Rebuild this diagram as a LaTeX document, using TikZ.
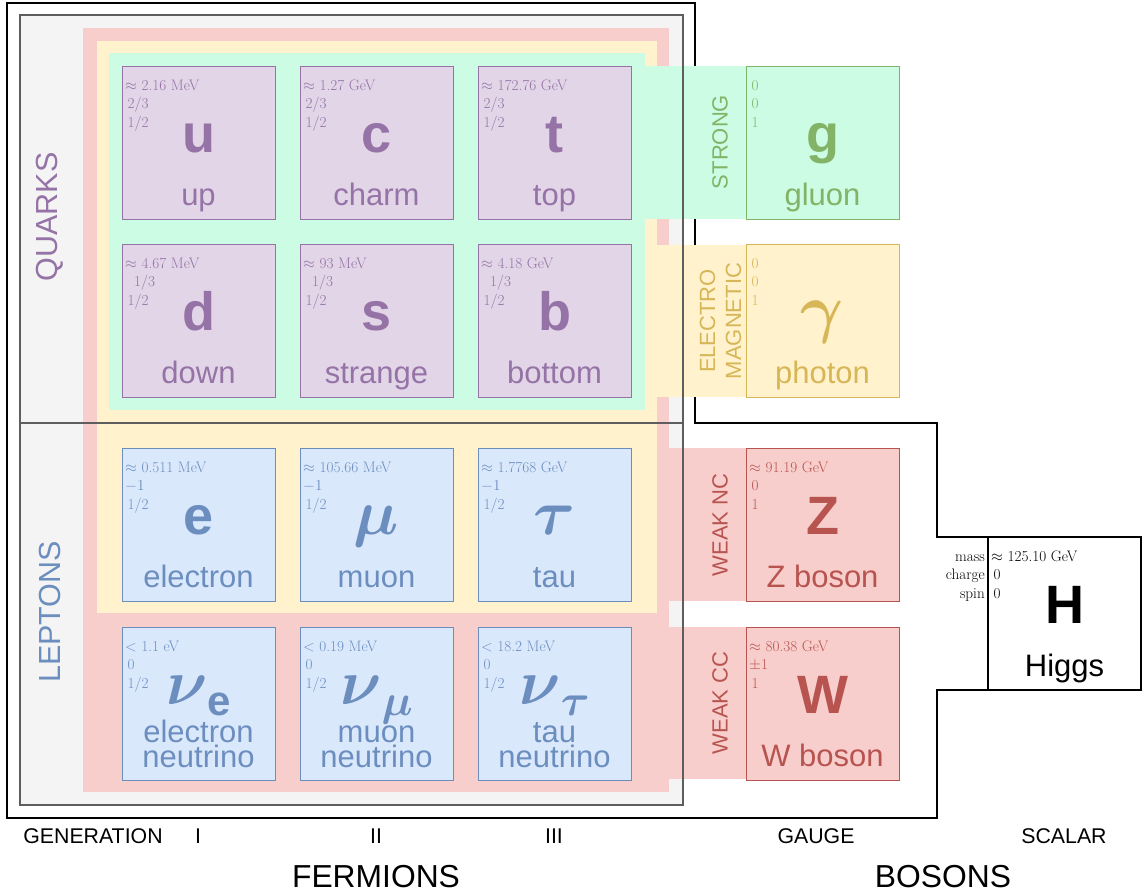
\documentclass[tikz,border=0pt]{standalone}
\usepackage{fix-cm}
\usepackage{amsmath}
\usepackage{fontspec}
\newfontfamily\fFamily{Liberation Sans}

% colour pairs: <prefix>line / <prefix>fill
\definecolor{qline}{HTML}{9673A6}\definecolor{qfill}{HTML}{E1D5E7}
\definecolor{lline}{HTML}{6C8EBF}\definecolor{lfill}{HTML}{DAE8FC}
\definecolor{sline}{HTML}{82B366}\definecolor{sfill}{HTML}{CCFCE4}
\definecolor{eline}{HTML}{D6B656}\definecolor{efill}{HTML}{FFF2CC}
\definecolor{wline}{HTML}{B85450}\definecolor{wfill}{HTML}{F8CECC}
\definecolor{panel}{HTML}{F4F4F4}\definecolor{panelline}{HTML}{5E5E5E}

\newcommand\fInfo{\fontsize{15.2}{18}\selectfont}
\newcommand\fSym{\fFamily\bfseries\fontsize{54}{60}\selectfont}
\newcommand\fGreek{\fontsize{64}{70}\selectfont}
\newcommand\fPhoton{\fontsize{66}{72}\selectfont}
\newcommand\fSub{\fFamily\bfseries\fontsize{42}{46}\selectfont}
\newcommand\fSubGreek{\fontsize{44}{48}\selectfont}
\newcommand\fName{\fFamily\fontsize{31}{25}\selectfont}
\newcommand\fForce{\fFamily\fontsize{22}{26}\selectfont}
\newcommand\fGroupSide{\fFamily\fontsize{30.5}{34}\selectfont}
\newcommand\fAxis{\fFamily\fontsize{21.3}{24}\selectfont}
\newcommand\fGroup{\fFamily\fontsize{31.8}{34}\selectfont}

% neutrino symbol: large nu with a lowered flavour index
\newcommand\nusym[1]{\raisebox{9pt}{\fGreek$\boldsymbol{\nu}$}\raisebox{-2pt}{#1}}

% one particle card: name, x, y, colour prefix, mass, charge, spin, symbol, label
\newcommand\particle[9]{%
  \node[card, draw=#4line, fill=#4fill] (#1) at (#2,#3) {};
  \node[info, text=#4line] at ([shift={(3,24)}]#1.north west) {#5};
  \node[info, text=#4line] at ([shift={(3,42)}]#1.north west) {#6};
  \node[info, text=#4line] at ([shift={(3,61)}]#1.north west) {#7};
  \node[sym, text=#4line] at ([shift={(0,86)}]#1.north) {#8};
  \node[pname, text=#4line] at ([shift={(0,139)}]#1.north) {#9};
}

\begin{document}
\begin{tikzpicture}[x=1pt, y=-1pt,
  card/.style={draw, line width=1pt, minimum width=153pt, minimum height=153pt,
               inner sep=0pt, outer sep=0pt, anchor=north west},
  info/.style={anchor=base west, inner sep=0pt, font=\fInfo},
  sym/.style={anchor=base, inner sep=0pt, font=\fSym},
  pname/.style={anchor=base, inner sep=0pt, font=\fName},
  force/.style={rotate=90, inner sep=0pt, font=\fForce, align=center},
  side/.style={rotate=90, inner sep=0pt, font=\fGroupSide},
  axis/.style={anchor=base, inner sep=0pt, font=\fAxis},
  group/.style={anchor=base, inner sep=0pt, font=\fGroup},
  frame/.style={line width=1.3pt, draw=black},
]
\useasboundingbox (0,0) rectangle (1148,892);

% scalar sector and the outer frame around everything
\node[card, draw=black, fill=white, line width=1.3pt] (higgs) at (988,537) {};
\draw[frame] (higgs.south west) -- (937,690) -- (937,818) -- (7,818) -- (7,3)
  -- (695,3) -- (695,423) -- (937,423) -- (937,537) -- (higgs.north west);

% fermion panel and the nested interaction regions
\fill[panel] (20,15) rectangle (683,805);
\fill[wfill] (83,28) rectangle (669,792);
\fill[efill] (97,41) rectangle (657,613);
\fill[sfill] (109,53) rectangle (645,410);

% bands reaching out to the gauge bosons
\fill[sfill] (645,66) rectangle (746,219);
\fill[efill] (657,245) rectangle (746,397);
\fill[wfill] (669,448) rectangle (746,601);
\fill[wfill] (669,627) rectangle (746,779);

\draw[panelline, line width=1.2pt] (20,15) rectangle (683,805);
\draw[panelline, line width=1.2pt] (20,423) -- (683,423);

% quarks
\particle{u}{122}{66}{q}{$\approx$ 2.16 MeV}{\,2/3}{\,1/2}{u}{up}
\particle{c}{300}{66}{q}{$\approx$ 1.27 GeV}{\,2/3}{\,1/2}{c}{charm}
\particle{t}{478}{66}{q}{$\approx$ 172.76 GeV}{\,2/3}{\,1/2}{t}{top}
\particle{d}{122}{244}{q}{$\approx$ 4.67 MeV}{\hspace*{9pt}1/3}{\,1/2}{d}{down}
\particle{s}{300}{244}{q}{$\approx$ 93 MeV}{\hspace*{9pt}1/3}{\,1/2}{s}{strange}
\particle{b}{478}{244}{q}{$\approx$ 4.18 GeV}{\hspace*{9pt}1/3}{\,1/2}{b}{bottom}

% leptons
\particle{e}{122}{448}{l}{$\approx$ 0.511 MeV}{$-1$}{\,1/2}{e}{electron}
\particle{mu}{300}{448}{l}{$\approx$ 105.66 MeV}{$-1$}{\,1/2}{{\fGreek$\boldsymbol{\mu}$}}{muon}
\particle{tau}{478}{448}{l}{$\approx$ 1.7768 GeV}{$-1$}{\,1/2}{{\fGreek$\boldsymbol{\tau}$}}{tau}
\particle{nue}{122}{627}{l}{$<$ 1.1 eV}{\,0}{\,1/2}{\nusym{\fSub e}}{}
\particle{numu}{300}{627}{l}{$<$ 0.19 MeV}{\,0}{\,1/2}{\nusym{\fSubGreek$\boldsymbol{\mu}$}}{}
\particle{nutau}{478}{627}{l}{$<$ 18.2 MeV}{\,0}{\,1/2}{\nusym{\fSubGreek$\boldsymbol{\tau}$}}{}
\node[pname, text=lline] at ([shift={(0,115)}]nue.north) {electron};
\node[pname, text=lline] at ([shift={(0,140)}]nue.north) {neutrino};
\node[pname, text=lline] at ([shift={(0,115)}]numu.north) {muon};
\node[pname, text=lline] at ([shift={(0,140)}]numu.north) {neutrino};
\node[pname, text=lline] at ([shift={(0,115)}]nutau.north) {tau};
\node[pname, text=lline] at ([shift={(0,140)}]nutau.north) {neutrino};

% gauge bosons
\particle{g}{746}{66}{s}{\,0}{\,0}{\,1}{g}{gluon}
\particle{gamma}{746}{244}{e}{\,0}{\,0}{\,1}{{\fPhoton$\boldsymbol{\gamma}$}}{photon}
\particle{Z}{746}{448}{w}{$\approx$ 91.19 GeV}{\,0}{\,1}{Z}{Z boson}
\particle{W}{746}{627}{w}{$\approx$ 80.38 GeV}{$\pm$1}{\,1}{W}{W boson}

% Higgs card contents and the property legend
\node[info] at ([shift={(3,24)}]higgs.north west) {$\approx$ 125.10 GeV};
\node[info] at ([shift={(3,42)}]higgs.north west) {\,0};
\node[info] at ([shift={(3,61)}]higgs.north west) {\,0};
\node[sym] at ([shift={(0,86)}]higgs.north) {H};
\node[pname] at ([shift={(0,139)}]higgs.north) {Higgs};
\node[info, anchor=base east] (mass) at ([shift={(-3,24)}]higgs.north west) {mass};
\node[info, anchor=base east] (charge) at ([shift={(-3,42)}]higgs.north west) {charge};
\node[info, anchor=base east] (spin) at ([shift={(-3,61)}]higgs.north west) {spin};

% group and interaction labels
\node[side, text=qline] (quarks) at (50,217) {QUARKS};
\node[side, text=lline] (leptons) at (50,612) {LEPTONS};
\node[force, text=sline] (strong) at (720,142) {STRONG};
\node[force, text=eline] (em) at (720.5,321) {ELECTRO\\MAGNETIC};
\node[force, text=wline] (nc) at (720,525) {WEAK NC};
\node[force, text=wline] (cc) at (720,703) {WEAK CC};

% axis captions
\node[axis] (generation) at (93,843) {GENERATION};
\node[axis] (gen1) at (198,843) {I};
\node[axis] (gen2) at (376,843) {II};
\node[axis] (gen3) at (554,843) {III};
\node[axis] (gauge) at (816,843) {GAUGE};
\node[axis] (scalar) at (1064,843) {SCALAR};
\node[group] (fermions) at (376,887) {FERMIONS};
\node[group] (bosons) at (943,887) {BOSONS};
\end{tikzpicture}
\end{document}
